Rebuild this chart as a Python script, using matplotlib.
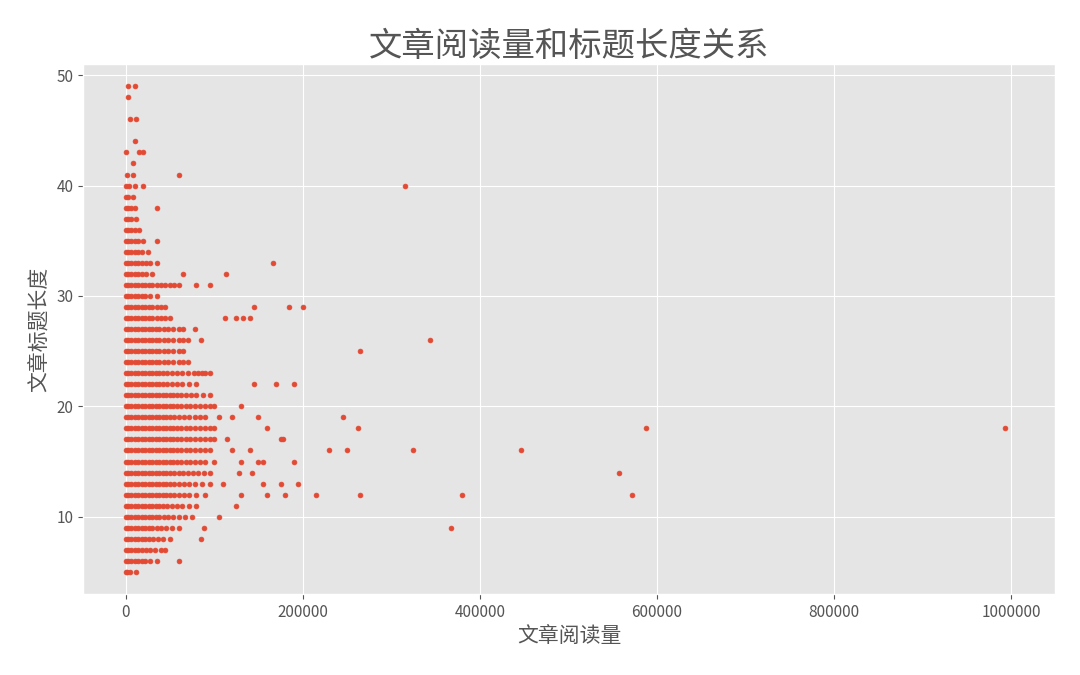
import matplotlib
matplotlib.use('Agg')
import matplotlib.pyplot as plt

plt.style.use('ggplot')
plt.rcParams['font.family'] = ['Noto Sans CJK SC', 'DejaVu Sans']
plt.rcParams['axes.unicode_minus'] = False

# views (thousands) for each title length
rows = {
    5: [0, 2, 5, 12],
    6: [0, 3, 6, 10, 14, 18, 22, 27, 35, 60],
    7: [0, 3, 6, 10, 14, 18, 23, 28, 33, 40, 45],
    8: [0, 3, 6, 10, 14, 18, 22, 26, 31, 36, 42, 50, 85],
    9: [0, 3, 6, 10, 14, 18, 22, 26, 30, 35, 40, 46, 52, 60, 88, 367],
    10: [0, 3, 6, 10, 14, 18, 22, 26, 30, 34, 38, 43, 48, 54, 60, 67, 75, 105],
    11: [0, 3, 6, 10, 14, 18, 22, 26, 30, 34, 38, 42, 47, 52, 58, 64, 71, 80, 125],
    12: [0, 3, 6, 10, 14, 18, 22, 26, 30, 34, 38, 42, 46, 50, 55, 60, 66, 72, 80, 90,
         130, 160, 180, 215, 265, 380, 572],
    13: [0, 3, 6, 10, 14, 18, 22, 26, 30, 34, 38, 42, 46, 50, 55, 60, 66, 72, 78, 86, 95,
         110, 155, 175, 195],
    14: [0, 3, 6, 10, 14, 18, 22, 26, 30, 34, 38, 42, 46, 50, 55, 60, 65, 70, 76, 82, 88, 95,
         128, 143, 557],
    15: [0, 3, 6, 10, 14, 18, 22, 26, 30, 34, 38, 42, 46, 50, 54, 58, 63, 68, 73, 78, 84, 90, 100,
         130, 150, 155, 190],
    16: [0, 3, 6, 10, 14, 18, 22, 26, 30, 34, 38, 42, 46, 50, 54, 58, 63, 68, 73, 78, 84, 90, 95,
         120, 140, 230, 250, 325, 447],
    17: [0, 3, 6, 10, 14, 18, 22, 26, 30, 34, 38, 42, 46, 50, 54, 58, 63, 68, 73, 78, 84, 90, 95, 100,
         115, 175, 178],
    18: [0, 3, 6, 10, 14, 18, 22, 26, 30, 34, 38, 42, 46, 50, 54, 58, 63, 68, 73, 78, 84, 90, 95, 100,
         160, 262, 588, 993],
    19: [0, 3, 6, 10, 14, 18, 22, 26, 30, 34, 38, 42, 46, 50, 55, 60, 66, 72, 78, 84, 90,
         105, 120, 150, 245],
    20: [0, 3, 6, 10, 14, 18, 22, 26, 30, 34, 38, 42, 46, 50, 54, 58, 63, 68, 73, 78, 84, 90, 95, 100, 130],
    21: [0, 3, 6, 10, 14, 18, 22, 26, 30, 34, 38, 42, 46, 50, 54, 58, 63, 68, 74, 80, 87, 95],
    22: [0, 3, 6, 10, 14, 18, 22, 26, 30, 34, 38, 42, 47, 52, 58, 64, 71, 80, 145, 170, 190],
    23: [0, 3, 6, 10, 14, 18, 22, 26, 30, 34, 38, 42, 47, 52, 58, 64, 70, 77, 82, 86, 90, 95],
    24: [0, 3, 6, 10, 14, 18, 22, 26, 30, 34, 38, 43, 48, 54, 60, 65, 70],
    25: [0, 3, 6, 10, 14, 18, 22, 26, 30, 34, 38, 43, 48, 54, 60, 65, 265],
    26: [0, 3, 6, 10, 14, 18, 22, 26, 30, 34, 38, 43, 48, 54, 60, 65, 70, 85, 344],
    27: [0, 3, 6, 10, 14, 18, 22, 26, 30, 34, 38, 43, 48, 54, 60, 65, 78],
    28: [0, 3, 6, 10, 14, 18, 22, 26, 30, 35, 40, 45, 50, 112, 125, 132, 140],
    29: [0, 3, 6, 10, 14, 18, 22, 26, 30, 35, 40, 45, 145, 185, 200],
    30: [0, 3, 6, 10, 14, 18, 22, 27, 35],
    31: [0, 3, 6, 10, 14, 18, 22, 26, 30, 35, 40, 45, 50, 55, 60, 80, 95],
    32: [0, 3, 6, 10, 14, 18, 23, 30, 65, 113],
    33: [0, 3, 6, 10, 14, 18, 23, 28, 35, 167],
    34: [0, 3, 6, 10, 14, 18, 25],
    35: [0, 3, 6, 10, 14, 20, 35],
    36: [0, 3, 6, 10, 15],
    37: [0, 3, 6, 12],
    38: [0, 3, 6, 10, 35],
    39: [0, 3, 8],
    40: [0, 4, 10, 20, 315],
    41: [2, 8, 60],
    42: [8],
    43: [0, 15, 20],
    44: [10],
    46: [5, 12],
    48: [3],
    49: [3, 10],
}

views = []
lengths = []
for n, vals in rows.items():
    for v in vals:
        views.append(v * 1000)
        lengths.append(n)

fig, ax = plt.subplots(figsize=(10.8, 6.75), dpi=100)
ax.scatter(views, lengths, s=12, color='#E24A33', zorder=3)
ax.set_title('文章阅读量和标题长度关系', fontsize=24, color='#555555')
ax.set_xlabel('文章阅读量', fontsize=15, color='#555555')
ax.set_ylabel('文章标题长度', fontsize=15, color='#555555')
ax.set_xticks([0, 200000, 400000, 600000, 800000, 1000000])
ax.set_xticklabels(['0', '200000', '400000', '600000', '800000', '1000000'])
ax.set_xlim(-48000, 1050000)
ax.set_ylim(3, 51)
ax.tick_params(labelsize=11)
plt.subplots_adjust(left=0.077, right=0.977, top=0.905, bottom=0.12)
plt.savefig('out.png')
